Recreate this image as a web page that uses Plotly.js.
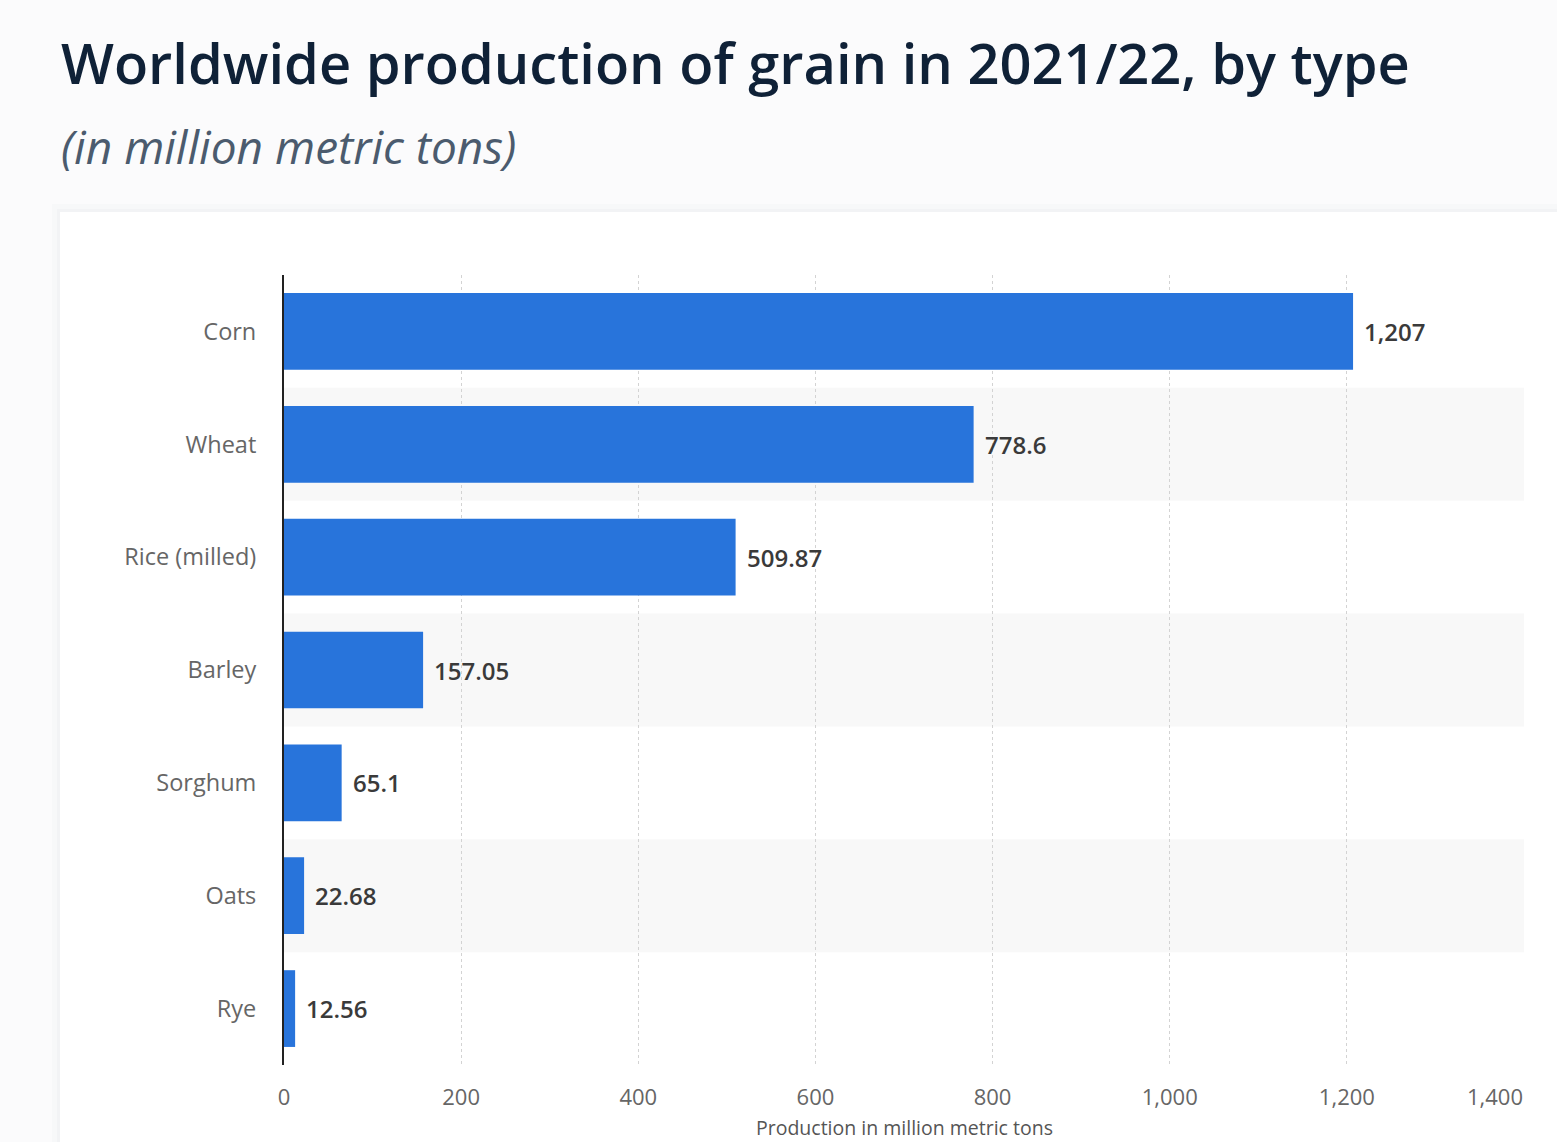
<!DOCTYPE html>
<html>
<head>
<meta charset="utf-8">
<script src="https://cdn.plot.ly/plotly-3.0.1.min.js"></script>
<style>
html,body{margin:0;padding:0;background:#fbfbfc;}
#chart{width:1557px;height:1142px;}
</style>
</head>
<body>
<div id="chart"></div>
<script>
const categories = ["Corn", "Wheat", "Rice (milled)", "Barley", "Sorghum", "Oats", "Rye"];
const production = [1207, 778.6, 509.87, 157.05, 65.1, 22.68, 12.56];
const xTicks = [0, 200, 400, 600, 800, 1000, 1200, 1400];

const titleText = "Worldwide production of grain in 2021/22, by type";
const subtitleText = "(in million metric tons)";
const xAxisTitle = "Production in million metric tons";

const W = 1557, H = 1142;
const L = 284, R = 33, T = 275, B = 77;
const pw = W - L - R, ph = H - T - B;
const px2paperX = p => (p - L) / pw;
const px2paperY = p => (H - B - p) / ph;
const fmt = v => v.toLocaleString('en-US', {maximumFractionDigits: 2});

const shapes = [];
// page card soft shadow + card
shapes.push({type:'rect', xref:'paper', yref:'paper', layer:'below',
  x0:px2paperX(52), x1:px2paperX(1570), y0:px2paperY(1160), y1:px2paperY(204),
  fillcolor:'#f7f8f9', line:{width:0}});
shapes.push({type:'rect', xref:'paper', yref:'paper', layer:'below',
  x0:px2paperX(57), x1:px2paperX(1570), y0:px2paperY(1160), y1:px2paperY(209),
  fillcolor:'#f2f3f5', line:{width:0}});
shapes.push({type:'rect', xref:'paper', yref:'paper', layer:'below',
  x0:px2paperX(60), x1:px2paperX(1570), y0:px2paperY(1160), y1:px2paperY(212),
  fillcolor:'#ffffff', line:{width:0}});
// alternating bands
categories.forEach((c, i) => {
  if (i % 2 === 1) {
    shapes.push({type:'rect', xref:'paper', yref:'y', layer:'below',
      x0:0, x1:1, y0:i - 0.5, y1:i + 0.5,
      fillcolor:'#f8f8f8', line:{width:0}});
  }
});

const annotations = production.map((v, i) => ({
  x: v, y: categories[i], xref:'x', yref:'y',
  text: fmt(v),
  showarrow:false, xanchor:'left', yanchor:'middle', xshift:9,
  font:{family:'Open Sans, sans-serif', size:24, color:'#3a3a3a', weight:600}
}));
annotations.push({
  text: subtitleText, xref:'paper', yref:'paper',
  x: px2paperX(59), y: px2paperY(146), xanchor:'left', yanchor:'middle',
  showarrow:false,
  font:{family:'Open Sans, sans-serif', size:46, color:'#4b5b6e', style:'italic', weight:400}
});
// last x tick label sits inside the plot edge (right-aligned to its gridline)
const lastTick = xTicks[xTicks.length - 1];
annotations.push({
  text: fmt(lastTick), xref:'x', yref:'paper',
  x: lastTick, y: px2paperY(1096), xanchor:'right', yanchor:'middle',
  showarrow:false, borderpad:0,
  font:{family:'Open Sans, sans-serif', size:22, color:'#666666'}
});
// x-axis title near the bottom edge
annotations.push({
  text: xAxisTitle, xref:'paper', yref:'paper',
  x: 0.5, y: px2paperY(1127), xanchor:'center', yanchor:'middle',
  showarrow:false, borderpad:0,
  font:{family:'Open Sans, sans-serif', size:19.5, color:'#555555'}
});

const trace = {
  type:'bar', orientation:'h',
  x: production, y: categories,
  marker:{color:'#2874db'},
  width:0.68,
  hoverinfo:'x+y'
};

const layout = {
  width:W, height:H,
  margin:{l:L, r:R, t:T, b:B, pad:0},
  paper_bgcolor:'#fbfbfc',
  plot_bgcolor:'rgba(0,0,0,0)',
  showlegend:false,
  title:{
    text:titleText, xref:'container', yref:'container',
    x:61/W, xanchor:'left', y:1 - 64/H, yanchor:'middle',
    font:{family:'Open Sans, sans-serif', size:56, color:'#0f2137', weight:600}
  },
  xaxis:{
    range:[0, 1400], tickvals:xTicks,
    ticktext:xTicks.map((t, i) => i === xTicks.length - 1 ? '' : fmt(t)),
    showgrid:true, gridcolor:'#d3d3d3', griddash:'dot', gridwidth:1,
    zeroline:false, showline:false, ticks:'',
    ticklabelstandoff:17,
    tickfont:{family:'Open Sans, sans-serif', size:22, color:'#666666'},
    automargin:false, fixedrange:true
  },
  yaxis:{
    type:'category', categoryorder:'array', categoryarray:categories,
    autorange:'reversed',
    showgrid:false, zeroline:false,
    showline:true, linecolor:'#222222', linewidth:2,
    ticks:'', ticklabelstandoff:21,
    tickfont:{family:'Open Sans, sans-serif', size:23.5, color:'#666666'},
    automargin:false, fixedrange:true
  },
  shapes:shapes,
  annotations:annotations,
  bargap:0.32
};

Plotly.newPlot('chart', [trace], layout, {displayModeBar:false, staticPlot:true});
</script>
</body>
</html>
